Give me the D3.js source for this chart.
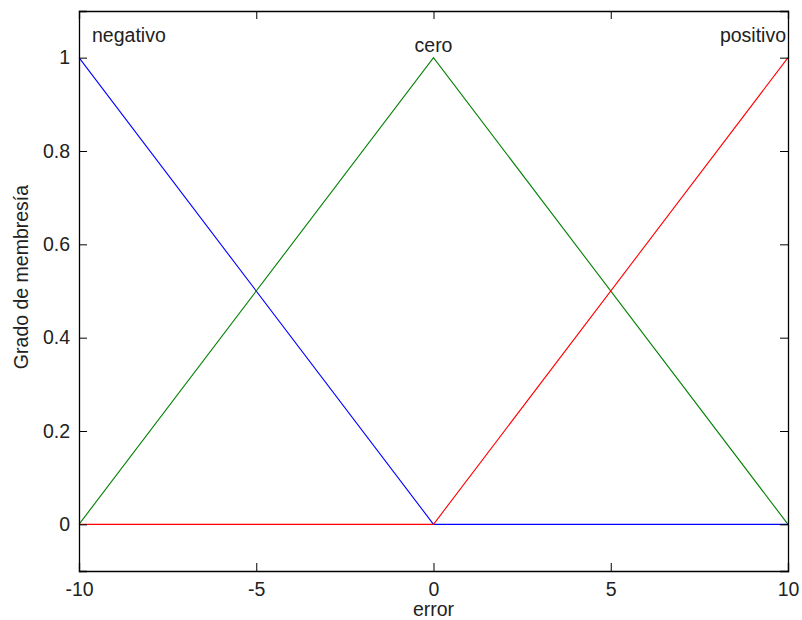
<!DOCTYPE html>
<html>
<head>
<meta charset="utf-8">
<script src="https://cdn.jsdelivr.net/npm/d3@7"></script>
<style>
  body { margin: 0; background: #fff; }
  text { font-family: "Liberation Sans", Arial, sans-serif; fill: #222; }
</style>
</head>
<body>
<div id="chart"></div>
<script>
// membership functions: error on x, grade on y
var errorPts = [-10, 0, 10];
var negativo = [1, 0, 0];
var cero = [0, 1, 0];
var positivo = [0, 0, 1];
var setNames = ["negativo", "cero", "positivo"];
var setColors = ["#0000ff", "#008000", "#ff0000"];
var xTicks = [-10, -5, 0, 5, 10];
var yTicks = [0, 0.2, 0.4, 0.6, 0.8, 1];

var W = 802, H = 620;
var margin = { top: 11, right: 14, bottom: 49, left: 79 },
    width = W - margin.left - margin.right,
    height = H - margin.top - margin.bottom;
var fs = "19.5px";

var svg = d3.select("#chart").append("svg")
    .attr("width", W).attr("height", H)
  .append("g")
    .attr("transform", `translate(${margin.left},${margin.top})`);

var x = d3.scaleLinear().domain([-10, 10]).range([0, width]);
var y = d3.scaleLinear().domain([-0.1, 1.1]).range([height, 0]);

// lines
var series = [negativo, cero, positivo];
var line = d3.line().x((d, i) => x(errorPts[i])).y(d => y(d));
series.forEach(function(s, k) {
  svg.append("path")
    .datum(s)
    .attr("d", line)
    .attr("fill", "none")
    .attr("stroke", setColors[k])
    .attr("stroke-width", 1.1);
});

// box + ticks (matlab style, ticks inside on all sides)
var tl = 8;
svg.append("g").attr("transform", `translate(0,${height})`)
  .call(d3.axisBottom(x).tickValues(xTicks).tickSize(-tl).tickPadding(11).tickFormat(d => String(d)));
svg.append("g")
  .call(d3.axisTop(x).tickValues(xTicks).tickSize(-tl).tickFormat(""));
svg.append("g")
  .call(d3.axisLeft(y).tickValues(yTicks).tickSize(-tl).tickPadding(9).tickFormat(d => d === 0 || d === 1 ? String(d) : d3.format(".1f")(d)));
svg.append("g").attr("transform", `translate(${width},0)`)
  .call(d3.axisRight(y).tickValues(yTicks).tickSize(-tl).tickFormat(""));

svg.selectAll(".domain").attr("stroke", "#000").attr("stroke-width", 1.3);
svg.selectAll(".tick line").attr("stroke", "#000");
svg.selectAll(".tick text").style("font-size", fs).attr("fill", "#222");

// set labels
svg.append("text").attr("x", x(-10) + 13).attr("y", 31)
  .style("font-size", fs).text(setNames[0]);
svg.append("text").attr("x", x(0)).attr("y", 41).attr("text-anchor", "middle")
  .style("font-size", fs).text(setNames[1]);
svg.append("text").attr("x", x(10) - 2).attr("y", 31).attr("text-anchor", "end")
  .style("font-size", fs).text(setNames[2]);

// axis titles
svg.append("text").attr("x", width / 2).attr("y", height + 45).attr("text-anchor", "middle")
  .style("font-size", fs).text("error");
svg.append("text")
  .attr("transform", `translate(${-51},${y(0.5) - 14}) rotate(-90)`)
  .attr("text-anchor", "middle")
  .style("font-size", fs).text("Grado de membresía");
</script>
</body>
</html>
